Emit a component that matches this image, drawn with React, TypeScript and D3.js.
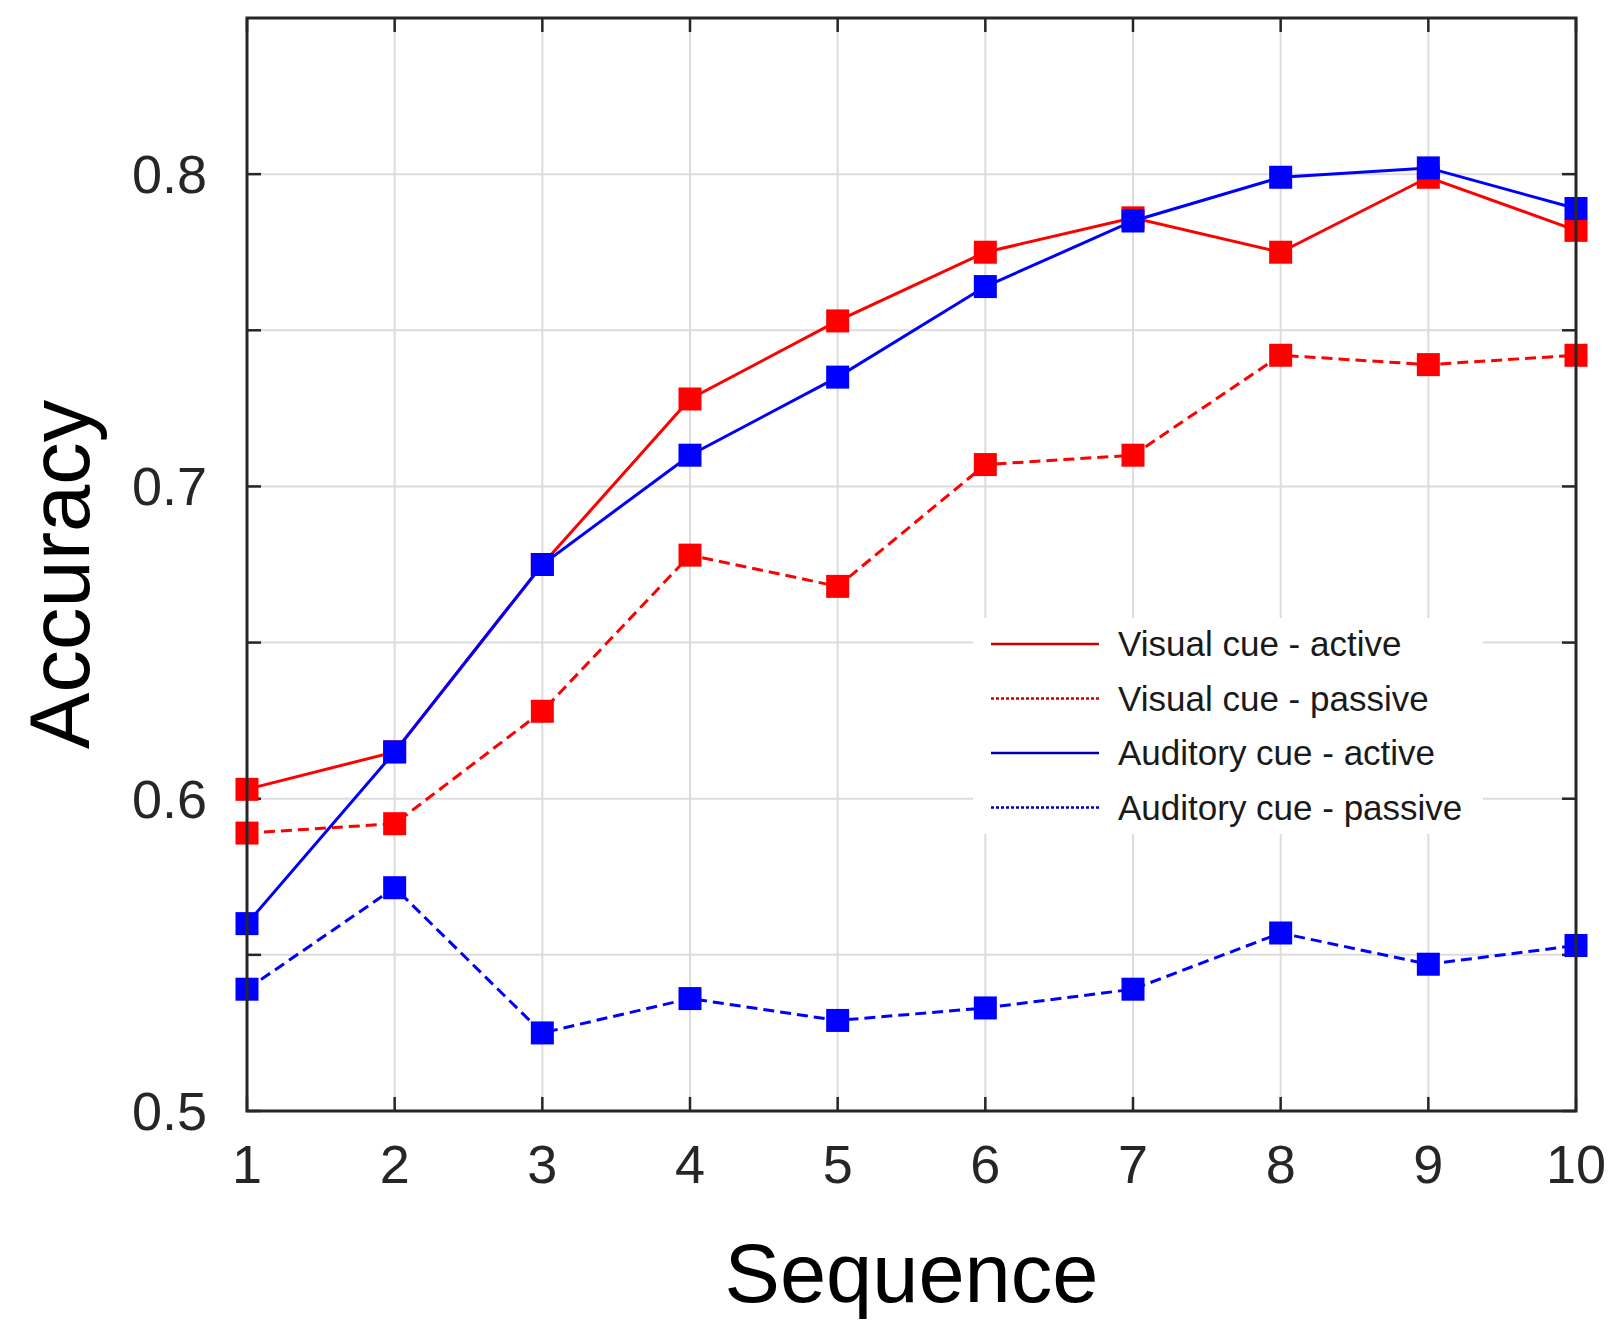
import React, { useEffect, useRef } from 'react';
import * as d3 from 'd3';

const sequence = [1, 2, 3, 4, 5, 6, 7, 8, 9, 10];
const visualActive = [0.603, 0.615, 0.675, 0.728, 0.753, 0.775, 0.786, 0.775, 0.799, 0.782];
const visualPassive = [0.589, 0.592, 0.628, 0.678, 0.668, 0.707, 0.710, 0.742, 0.739, 0.742];
const auditoryActive = [0.560, 0.615, 0.675, 0.710, 0.735, 0.764, 0.785, 0.799, 0.802, 0.789];
const auditoryPassive = [0.539, 0.5715, 0.525, 0.536, 0.529, 0.533, 0.539, 0.557, 0.547, 0.553];
const yTicks = [0.5, 0.55, 0.6, 0.65, 0.7, 0.75, 0.8];
const yLabels = [0.5, 0.6, 0.7, 0.8];
const seriesNames = ['Visual cue - active', 'Visual cue - passive', 'Auditory cue - active', 'Auditory cue - passive'];

const FONT = '"Liberation Sans", Arial, Helvetica, sans-serif';

function App() {
  const svgRef = useRef<SVGSVGElement>(null);
  const width = 1614;
  const height = 1325;
  const margin = { left: 247, right: 38, top: 18, bottom: 214 };

  useEffect(() => {
    const svg = d3.select(svgRef.current);
    svg.selectAll('*').remove();

    const x = d3.scaleLinear().domain([1, 10]).range([margin.left, width - margin.right]);
    const y = d3.scaleLinear().domain([0.5, 0.85]).range([height - margin.bottom, margin.top]);
    const [x0, x1] = x.range();
    const [y0, y1] = y.range();

    svg.append('rect').attr('width', width).attr('height', height).attr('fill', '#fff');

    // grid
    const grid = svg.append('g').attr('stroke', '#dcdcdc').attr('stroke-width', 2);
    grid.selectAll('line.v').data(sequence.slice(1, -1)).join('line')
      .attr('x1', d => x(d)).attr('x2', d => x(d)).attr('y1', y0).attr('y2', y1);
    grid.selectAll('line.h').data(yTicks.slice(1)).join('line')
      .attr('class', 'h')
      .attr('y1', d => y(d)).attr('y2', d => y(d)).attr('x1', x0).attr('x2', x1);

    // ticks (inside, all four sides)
    const tickLen = 14;
    const ticks = svg.append('g').attr('stroke', '#262626').attr('stroke-width', 2.5);
    sequence.forEach(d => {
      ticks.append('line').attr('x1', x(d)).attr('x2', x(d)).attr('y1', y0).attr('y2', y0 - tickLen);
      ticks.append('line').attr('x1', x(d)).attr('x2', x(d)).attr('y1', y1).attr('y2', y1 + tickLen);
    });
    yTicks.forEach(d => {
      ticks.append('line').attr('y1', y(d)).attr('y2', y(d)).attr('x1', x0).attr('x2', x0 + tickLen);
      ticks.append('line').attr('y1', y(d)).attr('y2', y(d)).attr('x1', x1).attr('x2', x1 - tickLen);
    });

    // series
    const series = [
      { values: visualActive, color: '#ff0000', dash: null },
      { values: visualPassive, color: '#ff0000', dash: '11,6' },
      { values: auditoryActive, color: '#0000ff', dash: null },
      { values: auditoryPassive, color: '#0000ff', dash: '11,6' },
    ];
    const line = d3.line<number>().x((_, i) => x(sequence[i])).y(d => y(d));
    const size = 23;
    series.forEach(s => {
      svg.append('path')
        .attr('d', line(s.values))
        .attr('fill', 'none')
        .attr('stroke', s.color)
        .attr('stroke-width', 3)
        .attr('stroke-dasharray', s.dash);
      svg.append('g').selectAll('rect').data(s.values).join('rect')
        .attr('x', (_, i) => x(sequence[i]) - size / 2)
        .attr('y', d => y(d) - size / 2)
        .attr('width', size)
        .attr('height', size)
        .attr('fill', s.color);
    });

    // axes box
    svg.append('rect')
      .attr('x', x0).attr('y', y1).attr('width', x1 - x0).attr('height', y0 - y1)
      .attr('fill', 'none').attr('stroke', '#262626').attr('stroke-width', 3);

    // tick labels
    svg.append('g').selectAll('text').data(sequence).join('text')
      .attr('x', d => x(d)).attr('y', y0 + 72)
      .attr('text-anchor', 'middle')
      .attr('font-family', FONT).attr('font-size', 54).attr('fill', '#262626')
      .text(d => d);
    svg.append('g').selectAll('text').data(yLabels).join('text')
      .attr('x', x0 - 40).attr('y', d => y(d) + 19)
      .attr('text-anchor', 'end')
      .attr('font-family', FONT).attr('font-size', 54).attr('fill', '#262626')
      .text(d => d3.format('.1f')(d));

    // axis titles
    svg.append('text')
      .attr('x', (x0 + x1) / 2).attr('y', 1302)
      .attr('text-anchor', 'middle')
      .attr('font-family', FONT).attr('font-size', 83).attr('fill', '#000')
      .text('Sequence');
    svg.append('text')
      .attr('transform', `translate(89,${(y0 + y1) / 2 + 10}) rotate(-90)`)
      .attr('text-anchor', 'middle')
      .attr('font-family', FONT).attr('font-size', 85).attr('fill', '#000')
      .text('Accuracy');

    // legend
    const legend = svg.append('g').attr('transform', 'translate(973,618)');
    legend.append('rect').attr('width', 510).attr('height', 216).attr('fill', '#fff');
    const legendColors = ['#d00000', '#d00000', '#0000b0', '#0000b0'];
    const legendDash = [null, '3,2', null, '3,2'];
    seriesNames.forEach((name, i) => {
      const ly = 26 + i * 54.5;
      legend.append('line')
        .attr('x1', 18).attr('x2', 126).attr('y1', ly).attr('y2', ly)
        .attr('stroke', legendColors[i]).attr('stroke-width', 2.5)
        .attr('stroke-dasharray', legendDash[i]);
      legend.append('text')
        .attr('x', 145).attr('y', ly + 12)
        .attr('font-family', FONT).attr('font-size', 35).attr('fill', '#1a1a1a')
        .text(name);
    });
  }, []);

  return (
    <div style={{ position: 'absolute', left: 0, top: 0 }}>
      <svg ref={svgRef} width={width} height={height} style={{ display: 'block' }} />
    </div>
  );
}

export default App;
